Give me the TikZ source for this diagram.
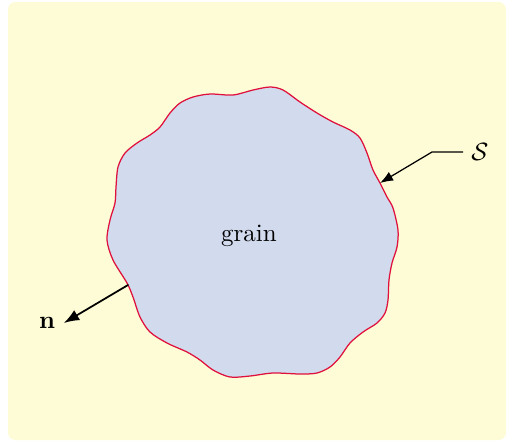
\documentclass[tikz,border=0pt]{standalone}
\usepackage{amssymb}
\usepackage{amsmath}
\usepackage{tikz}
\usetikzlibrary{arrows.meta}
\definecolor{my_paper}{HTML}{FEFCD6}
\definecolor{my_grain}{HTML}{D2DBEE}
\definecolor{my_edge}{HTML}{E0103C}

\begin{document}
\begin{tikzpicture}[
    line cap=round,
    line join=round,
    >=Latex,
    every node/.style={font=\normalsize}
]

% Global scale (one unit is one pixel of the layout, y pointing down)
\begin{scope}[x=0.4pt,y=-0.4pt]

% Page box and yellow background
\useasboundingbox (0,0) rectangle (507,443);
\fill[my_paper, rounded corners=3pt]
    (8,2) rectangle (506,440);

% Wavy grain outline
\draw[draw=my_edge, fill=my_grain, line width=0.5pt]
    plot[smooth cycle, tension=0.5] coordinates {
    (270,87) (253,90) (233,95) (210,94) (193,97) (180,103)
    (170,113) (160,127) (150,135) (137,143) (125,153) (118,167)
    (116,187) (115,203) (110,220) (107,240) (113,260) (127,283)
    (133,297) (140,317) (150,332) (167,343) (187,352) (200,360)
    (213,370) (230,377) (250,376) (273,373) (300,374) (317,373)
    (330,367) (340,357) (350,343) (363,332) (377,323) (385,313)
    (388,300) (389,280) (392,263) (397,247) (398,230) (393,208)
    (387,197) (380,183) (373,170) (367,153) (360,138) (350,130)
    (333,122) (317,113) (300,102) (283,90)};

% Labels
\node (grain)  at (249,236) {grain};
\node (surf)   at (480,152) {$\mathcal{S}$};
\node (normal) at (47,323)  {$\mathbf{n}$};

% Points on the outline
\coordinate (surf-bend)   at (432,152);
\coordinate (surf-tip)    at (380,183);
\coordinate (normal-base) at (128,285);

% Leader to the surface
\draw[->, line width=0.5pt]
    (surf.west) -- (surf-bend) -- (surf-tip);

% Outward normal
\draw[->, line width=0.7pt]
    (normal-base) -- (normal.east);

\end{scope}
\end{tikzpicture}
\end{document}
